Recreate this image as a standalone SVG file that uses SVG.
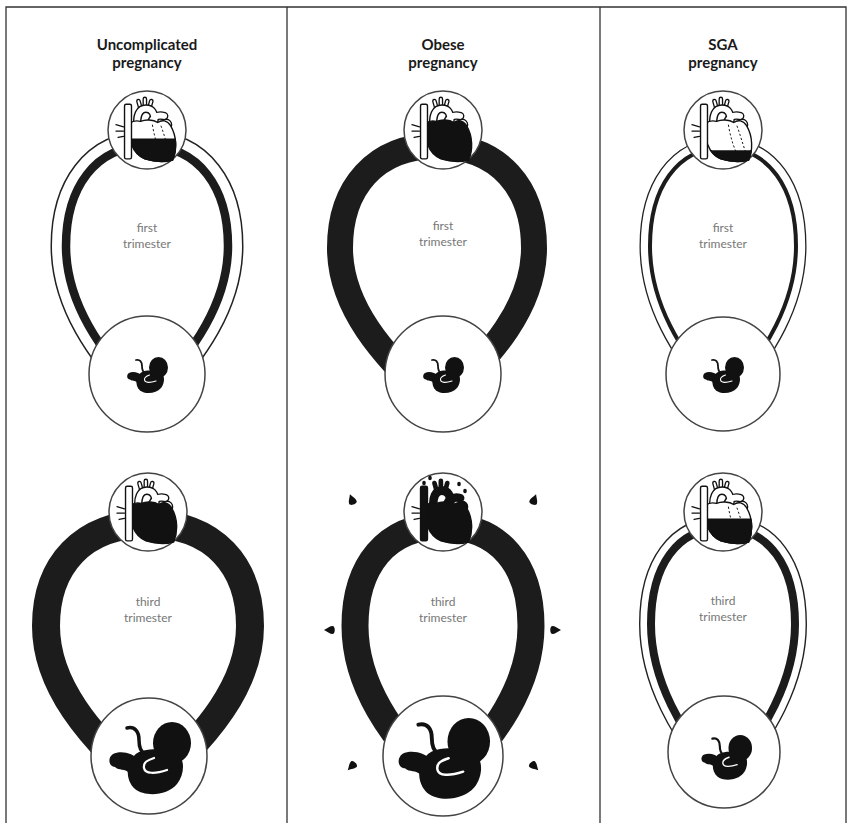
<svg xmlns="http://www.w3.org/2000/svg" width="849" height="823" viewBox="0 0 849 823">
<style>
.frame{stroke:#333;stroke-width:1.3;fill:none}
.head{font-family:Lato,"Open Sans","Liberation Sans",sans-serif;font-weight:700;font-size:15px;fill:#1a1a1a;text-anchor:middle}
.lab{font-family:Lato,"Open Sans","Liberation Sans",sans-serif;font-size:12px;fill:#777;text-anchor:middle}
.ring{fill:#fff;stroke:#444;stroke-width:1.5}
.ol{fill:#fff;stroke:#111;stroke-width:1.3;stroke-linejoin:round}
.bk{fill:#111;stroke:#111;stroke-width:1.3;stroke-linejoin:round}
.ln{fill:none;stroke:#111;stroke-width:1.2;stroke-linecap:round}
.dash{fill:none;stroke:#111;stroke-width:0.9;stroke-dasharray:2 2}
.to{fill:none;stroke:#111;stroke-width:8;stroke-linecap:round}
.ti{fill:none;stroke:#fff;stroke-width:5.4;stroke-linecap:round}
.bo{fill:none;stroke:#111;stroke-width:4.4;stroke-linecap:round}
.bi{fill:none;stroke:#fff;stroke-width:1.9;stroke-linecap:round}
.edge{fill:none;stroke:#222}
.gap{fill:none;stroke:#fff}
.core{fill:none;stroke:#1c1c1c}
.inner{fill:#fff;stroke:none}
</style>
<defs>
  <!-- loop centre lines, x relative to column centre -->
  <path id="L1a" d="M0,146 C-52,146 -81,188 -81,246 C-81,302 -48,350 0,402 C48,350 81,302 81,246 C81,188 52,146 0,146Z"/>
  <path id="L2a" d="M0,146 C-62,146 -97,188 -97,248 C-97,306 -56,354 0,406 C56,354 97,306 97,248 C97,188 62,146 0,146Z"/>
  <path id="L3a" d="M0,148 C-46,148 -73,188 -73,246 C-73,302 -44,350 0,402 C44,350 73,302 73,246 C73,188 46,148 0,148Z"/>
  <path id="L1b" d="M0,524 C-66,524 -102,566 -102,626 C-102,684 -60,736 0,788 C60,736 102,684 102,626 C102,566 66,524 0,524Z"/>
  <path id="L2b" d="M0,526 C-57,526 -88,566 -88,626 C-88,684 -53,736 0,788 C53,736 88,684 88,626 C88,566 57,526 0,526Z"/>
  <path id="L3b" d="M0,528 C-46,528 -72,566 -72,624 C-72,680 -42,732 0,782 C42,732 72,680 72,624 C72,566 46,528 0,528Z"/>

  <!-- heart pieces -->
  <path id="hbody" d="M-16,-6 C-18,8 -14,22 -2,27 C8,30 17,30 24,28 C28,19 28,6 22,-4 C19,-9 14,-10 10,-7 C6,-10 -2,-10 -6,-8 C-10,-9 -14,-8 -16,-6Z"/>
  <g id="hvt">
    <path d="M-9,-3 C-10,-14 -7,-20 -1,-20 C5,-20 7,-15 7,-9"/>
    <path d="M3,-4 C4,-11 9,-15 16,-13"/>
  </g>
  <path id="hvb" d="M-6,-20 L-8,-27 M-2,-21 L-2,-29 M2,-20 L4,-27"/>
  <circle id="hbulb" cx="18" cy="-5" r="5"/>
  <rect id="hcava" x="-21" y="-24" width="6.5" height="51" rx="1.5"/>
  <path id="hlines" d="M-29,-5 L-22,-3 M-29,1 L-22,1 M-27,7 L-22,6"/>
  <path id="hcor" d="M5,-5 C7,7 10,17 15,26 M13,-4 C16,4 18,12 21,20"/>

  <clipPath id="lvA"><rect x="-40" y="8" width="80" height="40"/></clipPath>
  <clipPath id="lvC"><rect x="-40" y="19" width="80" height="40"/></clipPath>
  <clipPath id="lvD"><rect x="-40" y="6" width="80" height="40"/></clipPath>

  <!-- curled fetus silhouette -->
  <g id="fetus">
    <path fill="#111" d="M-10,4 C-16,-3 -28,-6 -36,-2 C-42,2 -40,11 -34,11 C-30,15 -24,12 -20,17 C-18,23 -13,25 -9,22Z"/>
    <path fill="#111" d="M-10,-4 C-22,2 -26,22 -14,33 C-4,41 18,40 28,28 C36,18 36,2 28,-2 C20,-5 4,-10 -10,-4Z"/>
    <ellipse fill="#111" cx="23" cy="-13" rx="19" ry="21"/>
    <path fill="none" stroke="#111" stroke-width="3.5" stroke-linecap="round" d="M-22,-28 C-14,-30 -10,-24 -10,-16 C-10,-8 -8,-4 -4,-2"/>
    <path fill="none" stroke="#fff" stroke-width="2.2" stroke-linecap="round" d="M5,2 C-1,4 -6,6 -5,12 C-4,18 6,18 18,14"/>
  </g>
  <path id="drop" d="M0,-6 C2,-2 4,0 4,2.5 C4,5.5 -4,5.5 -4,2.5 C-4,0 -2,-2 0,-6Z" fill="#111"/>
</defs>

<!-- frame and column dividers -->
<g id="frame" class="frame">
  <path d="M6,823 V7 H846 V823"/>
  <path d="M287,7 V823 M600,7 V823"/>
</g>

<!-- column headings -->
<g id="headings" class="head">
  <text x="147" y="50">Uncomplicated</text>
  <text x="147" y="68">pregnancy</text>
  <text x="443" y="50">Obese</text>
  <text x="443" y="68">pregnancy</text>
  <text x="723" y="50">SGA</text>
  <text x="723" y="68">pregnancy</text>
</g>

<!-- circulation loops -->
<g id="connectors">
  <g id="loop-1a" transform="translate(147,0)">
    <use href="#L1a" class="edge" stroke-width="31"/>
    <use href="#L1a" class="gap" stroke-width="28"/>
    <use href="#L1a" class="inner"/>
    <use href="#L1a" class="core" stroke-width="8.5"/>
  </g>
  <g id="loop-2a" transform="translate(437,0)">
    <use href="#L2a" class="core" stroke-width="26"/>
  </g>
  <g id="loop-3a" transform="translate(723,0)">
    <use href="#L3a" class="edge" stroke-width="21"/>
    <use href="#L3a" class="gap" stroke-width="18.4"/>
    <use href="#L3a" class="inner"/>
    <use href="#L3a" class="core" stroke-width="4"/>
  </g>
  <g id="loop-1b" transform="translate(148,0)">
    <use href="#L1b" class="core" stroke-width="28"/>
  </g>
  <g id="loop-2b" transform="translate(443,0)">
    <use href="#L2b" class="core" stroke-width="27"/>
  </g>
  <g id="loop-3b" transform="translate(723,0)">
    <use href="#L3b" class="edge" stroke-width="24"/>
    <use href="#L3b" class="gap" stroke-width="21.2"/>
    <use href="#L3b" class="inner"/>
    <use href="#L3b" class="core" stroke-width="8"/>
  </g>
</g>

<!-- trimester labels -->
<g id="labels" class="lab">
  <text x="147" y="232">first</text>
  <text x="147" y="248">trimester</text>
  <text x="443" y="230">first</text>
  <text x="443" y="246">trimester</text>
  <text x="723" y="232">first</text>
  <text x="723" y="248">trimester</text>
  <text x="148" y="606">third</text>
  <text x="148" y="622">trimester</text>
  <text x="443" y="606">third</text>
  <text x="443" y="622">trimester</text>
  <text x="723" y="605">third</text>
  <text x="723" y="621">trimester</text>
</g>

<!-- hearts -->
<g id="heart-1a" transform="translate(147,130)">
  <circle r="39" class="ring"/>
  <g transform="scale(1.07)">
    <use href="#hvb" class="bo"/><use href="#hvb" class="bi"/>
    <use href="#hvt" class="to"/><use href="#hvt" class="ti"/>
    <use href="#hbulb" class="ol"/>
    <use href="#hbody" class="ol"/>
    <use href="#hbody" class="bk" clip-path="url(#lvA)"/>
    <use href="#hcor" class="dash"/>
    <use href="#hcava" class="ol"/>
    <use href="#hlines" class="ln"/>
  </g>
</g>
<g id="heart-2a" transform="translate(443,130)">
  <circle r="39" class="ring"/>
  <g transform="scale(1.07)">
    <use href="#hvb" class="bo"/><use href="#hvb" class="bi"/>
    <use href="#hvt" class="to"/><use href="#hvt" class="ti"/>
    <use href="#hbulb" class="ol"/>
    <use href="#hbody" class="bk"/>
    <use href="#hcava" class="ol"/>
    <use href="#hlines" class="ln"/>
  </g>
</g>
<g id="heart-3a" transform="translate(723,130)">
  <circle r="39" class="ring"/>
  <g transform="scale(1.07)">
    <use href="#hvb" class="bo"/><use href="#hvb" class="bi"/>
    <use href="#hvt" class="to"/><use href="#hvt" class="ti"/>
    <use href="#hbulb" class="ol"/>
    <use href="#hbody" class="ol"/>
    <use href="#hbody" class="bk" clip-path="url(#lvC)"/>
    <use href="#hcor" class="dash"/>
    <use href="#hcava" class="ol"/>
    <use href="#hlines" class="ln"/>
  </g>
</g>
<g id="heart-1b" transform="translate(148,512)">
  <circle r="39" class="ring"/>
  <g transform="scale(1.07)">
    <use href="#hvb" class="bo"/><use href="#hvb" class="bi"/>
    <use href="#hvt" class="to"/><use href="#hvt" class="ti"/>
    <use href="#hbulb" class="ol"/>
    <use href="#hbody" class="bk"/>
    <use href="#hcava" class="ol"/>
    <use href="#hlines" class="ln"/>
  </g>
</g>
<g id="heart-2b" transform="translate(443,512)">
  <circle r="39" class="ring"/>
  <g transform="scale(1.07)">
    <use href="#hvb" class="bo"/>
    <use href="#hvt" class="to"/>
    <use href="#hbulb" class="bk"/>
    <use href="#hbody" class="bk"/>
    <use href="#hcava" class="bk"/>
    <use href="#hlines" class="ln"/>
  </g>
  <ellipse cx="-19" cy="-29" rx="1.8" ry="2.2" fill="#111"/>
  <ellipse cx="-13" cy="-34" rx="1.8" ry="2.2" fill="#111"/>
  <ellipse cx="16" cy="-28" rx="1.8" ry="2.2" fill="#111"/>
  <ellipse cx="22" cy="-21" rx="1.8" ry="2.2" fill="#111"/>
</g>
<g id="heart-3b" transform="translate(723,512)">
  <circle r="39" class="ring"/>
  <g transform="scale(1.07)">
    <use href="#hvb" class="bo"/><use href="#hvb" class="bi"/>
    <use href="#hvt" class="to"/><use href="#hvt" class="ti"/>
    <use href="#hbulb" class="ol"/>
    <use href="#hbody" class="ol"/>
    <use href="#hbody" class="bk" clip-path="url(#lvD)"/>
    <use href="#hcor" class="dash"/>
    <use href="#hcava" class="ol"/>
    <use href="#hlines" class="ln"/>
  </g>
</g>

<!-- splashes around the obese third-trimester loop -->
<g id="splashes">
  <use href="#drop" transform="translate(352,500) rotate(-20)"/>
  <use href="#drop" transform="translate(534,500) rotate(20)"/>
  <use href="#drop" transform="translate(330,630) rotate(-90)"/>
  <use href="#drop" transform="translate(555,630) rotate(90)"/>
  <use href="#drop" transform="translate(352,766) rotate(-135)"/>
  <use href="#drop" transform="translate(534,766) rotate(135)"/>
</g>

<!-- fetuses -->
<g id="fetus-1a" transform="translate(147,374)">
  <circle r="58" class="ring"/>
  <use href="#fetus" transform="scale(0.5)"/>
</g>
<g id="fetus-2a" transform="translate(443,374)">
  <circle r="58" class="ring"/>
  <use href="#fetus" transform="scale(0.5)"/>
</g>
<g id="fetus-3a" transform="translate(723,374)">
  <circle r="57" class="ring"/>
  <use href="#fetus" transform="scale(0.5)"/>
</g>
<g id="fetus-1b" transform="translate(149,756)">
  <circle r="58" class="ring"/>
  <use href="#fetus" transform="scale(1)"/>
</g>
<g id="fetus-2b" transform="translate(443,756)">
  <circle r="60" class="ring"/>
  <use href="#fetus" transform="scale(1.12)"/>
</g>
<g id="fetus-3b" transform="translate(724,752)">
  <circle r="56" class="ring"/>
  <use href="#fetus" transform="translate(2,4) scale(0.62)"/>
</g>
</svg>
